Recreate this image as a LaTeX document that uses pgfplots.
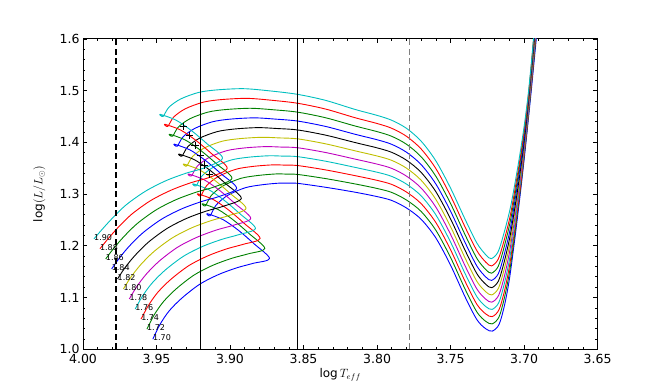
\documentclass[border=0pt]{standalone}
\usepackage{pgfplots}
\pgfplotsset{compat=1.18}
\usepackage{fontspec}
\setmainfont{DejaVu Sans}
\definecolor{mb}{rgb}{0,0,1}
\definecolor{mg}{rgb}{0,0.5,0}
\definecolor{mr}{rgb}{1,0,0}
\definecolor{mc}{rgb}{0,0.75,0.75}
\definecolor{mm}{rgb}{0.75,0,0.75}
\definecolor{my}{rgb}{0.75,0.75,0}
\definecolor{mk}{rgb}{0,0,0}
\begin{document}
\begin{tikzpicture}
\useasboundingbox (-83pt,-38.8pt) rectangle (581pt,349.2pt);
\begin{axis}[
  at={(0,0)}, anchor=south west,
  scale only axis, width=514.6pt, height=310.4pt,
  x dir=reverse, xmin=3.65, xmax=4.0, ymin=1.0, ymax=1.6,
  xtick={3.65,3.70,3.75,3.80,3.85,3.90,3.95,4.00},
  xticklabels={3.65,3.70,3.75,3.80,3.85,3.90,3.95,4.00},
  ytick={1.0,1.1,1.2,1.3,1.4,1.5,1.6},
  yticklabels={1.0,1.1,1.2,1.3,1.4,1.5,1.6},
  minor x tick num=4, minor y tick num=4,
  major tick length=4.5pt, minor tick length=2.2pt,
  tick style={black, line width=0.6pt},
  axis line style={line width=0.8pt},
  tick label style={font=\fontsize{12.5}{14}\selectfont},
  xticklabel style={yshift=-1.5pt},
  xlabel={$\log T_{eff}$}, ylabel={$\log(L/L_{\odot})$},
  label style={font=\fontsize{12}{14}\selectfont},
  xlabel style={at={(axis description cs:0.5,-0.082)}, anchor=center},
  ylabel style={at={(axis description cs:-0.085,0.5)}, anchor=center},
  every axis plot/.append style={line width=0.9pt, line join=round},
]
% evolutionary tracks, 1.70 ... 1.90 Msun
\addplot[mb, smooth] coordinates {
(3.9525,1.0194) (3.9477,1.0475) (3.9414,1.0740) (3.9327,1.0989) (3.9207,1.1254) (3.9080,1.1441) (3.8953,1.1574) (3.8842,1.1660) (3.8731,1.1753)
(3.8837,1.2039) (3.8943,1.2299) (3.9049,1.2507) (3.9155,1.2620) (3.9135,1.2580)
(3.9095,1.2785) (3.9015,1.2975) (3.8895,1.3122) (3.8775,1.3181) (3.8660,1.3211) (3.8600,1.3209) (3.8540,1.3206)
(3.835,1.3130) (3.815,1.3035) (3.800,1.2950) (3.790,1.2875) (3.780,1.2730) (3.770,1.2511) (3.760,1.2150) (3.750,1.1624) (3.740,1.1004) (3.732,1.0567) (3.726,1.0394) (3.7216,1.0350)
(3.7170,1.048) (3.7133,1.085) (3.7100,1.135) (3.7069,1.200) (3.7047,1.250) (3.7026,1.300) (3.7006,1.350) (3.6987,1.400) (3.6969,1.450) (3.6951,1.500) (3.6934,1.550) (3.6917,1.600) (3.6901,1.650)
};
\addplot[mg, smooth] coordinates {
(3.9565,1.0388) (3.9517,1.0658) (3.9453,1.0918) (3.9365,1.1169) (3.9244,1.1434) (3.9116,1.1623) (3.8988,1.1757) (3.8875,1.1844) (3.8763,1.1947)
(3.8869,1.2232) (3.8975,1.2492) (3.9081,1.2700) (3.9187,1.2812) (3.9167,1.2772)
(3.9127,1.2973) (3.9047,1.3158) (3.8927,1.3302) (3.8807,1.3359) (3.8685,1.3388) (3.8613,1.3384) (3.8540,1.3378)
(3.835,1.3298) (3.815,1.3195) (3.800,1.3107) (3.790,1.3030) (3.780,1.2884) (3.770,1.2662) (3.760,1.2299) (3.750,1.1773) (3.740,1.1154) (3.732,1.0715) (3.726,1.0537) (3.7217,1.0490)
(3.7171,1.062) (3.7134,1.099) (3.7099,1.149) (3.7067,1.214) (3.7045,1.264) (3.7023,1.314) (3.7003,1.364) (3.6984,1.414) (3.6966,1.464) (3.6949,1.514) (3.6932,1.564) (3.6916,1.614)
};
\addplot[mr, smooth] coordinates {
(3.9605,1.0582) (3.9556,1.0841) (3.9492,1.1097) (3.9403,1.1349) (3.9281,1.1614) (3.9151,1.1804) (3.9022,1.1940) (3.8908,1.2029) (3.8795,1.2141)
(3.8901,1.2426) (3.9007,1.2685) (3.9113,1.2892) (3.9219,1.3004) (3.9199,1.2964)
(3.9159,1.3161) (3.9079,1.3339) (3.8959,1.3479) (3.8839,1.3535) (3.8710,1.3563) (3.8625,1.3558) (3.8540,1.3550)
(3.835,1.3466) (3.815,1.3355) (3.800,1.3264) (3.790,1.3185) (3.780,1.3038) (3.770,1.2813) (3.760,1.2448) (3.750,1.1922) (3.740,1.1304) (3.732,1.0863) (3.726,1.0680) (3.7217,1.0630)
(3.7171,1.076) (3.7133,1.113) (3.7098,1.163) (3.7065,1.228) (3.7041,1.278) (3.7019,1.328) (3.6999,1.378) (3.6980,1.428) (3.6963,1.478) (3.6945,1.528) (3.6929,1.578) (3.6913,1.628)
};
\addplot[mc, smooth] coordinates {
(3.9645,1.0776) (3.9596,1.1024) (3.9531,1.1275) (3.9441,1.1529) (3.9318,1.1794) (3.9187,1.1986) (3.9056,1.2123) (3.8942,1.2213) (3.8827,1.2335)
(3.8933,1.2619) (3.9039,1.2877) (3.9145,1.3084) (3.9251,1.3196) (3.9231,1.3156)
(3.9191,1.3348) (3.9111,1.3522) (3.8991,1.3658) (3.8871,1.3712) (3.8735,1.3739) (3.8638,1.3732) (3.8540,1.3722)
(3.835,1.3634) (3.815,1.3515) (3.800,1.3421) (3.790,1.3340) (3.780,1.3192) (3.770,1.2964) (3.760,1.2597) (3.750,1.2071) (3.740,1.1454) (3.732,1.1011) (3.726,1.0823) (3.7218,1.0770)
(3.7172,1.090) (3.7134,1.127) (3.7097,1.177) (3.7063,1.242) (3.7039,1.292) (3.7017,1.342) (3.6996,1.392) (3.6977,1.442) (3.6960,1.492) (3.6943,1.542) (3.6927,1.592) (3.6912,1.642)
};
\addplot[mm, smooth] coordinates {
(3.9685,1.0970) (3.9635,1.1207) (3.9569,1.1453) (3.9479,1.1709) (3.9355,1.1974) (3.9222,1.2167) (3.9090,1.2306) (3.8975,1.2398) (3.8859,1.2529)
(3.8965,1.2812) (3.9071,1.3070) (3.9177,1.3276) (3.9283,1.3388) (3.9263,1.3348)
(3.9223,1.3536) (3.9143,1.3705) (3.9023,1.3837) (3.8903,1.3890) (3.8760,1.3916) (3.8650,1.3907) (3.8540,1.3894)
(3.835,1.3802) (3.815,1.3675) (3.800,1.3578) (3.790,1.3495) (3.780,1.3346) (3.770,1.3115) (3.760,1.2746) (3.750,1.2220) (3.740,1.1604) (3.732,1.1159) (3.726,1.0966) (3.7219,1.0910)
(3.7173,1.104) (3.7134,1.141) (3.7097,1.191) (3.7062,1.256) (3.7037,1.306) (3.7014,1.356) (3.6993,1.406) (3.6974,1.456) (3.6957,1.506) (3.6941,1.556) (3.6925,1.606) (3.6910,1.656)
};
\addplot[my, smooth] coordinates {
(3.9725,1.1164) (3.9675,1.1390) (3.9608,1.1632) (3.9517,1.1889) (3.9391,1.2154) (3.9258,1.2349) (3.9125,1.2489) (3.9008,1.2583) (3.8891,1.2723)
(3.8997,1.3006) (3.9103,1.3263) (3.9209,1.3469) (3.9315,1.3580) (3.9295,1.3540)
(3.9255,1.3724) (3.9175,1.3890) (3.9055,1.4019) (3.8935,1.4070) (3.8785,1.4096) (3.8663,1.4084) (3.8540,1.4066)
(3.835,1.3970) (3.815,1.3835) (3.800,1.3735) (3.790,1.3650) (3.780,1.3500) (3.770,1.3266) (3.760,1.2895) (3.750,1.2369) (3.740,1.1754) (3.732,1.1307) (3.726,1.1109) (3.7220,1.1050)
(3.7174,1.118) (3.7135,1.155) (3.7096,1.205) (3.7060,1.270) (3.7034,1.320) (3.7011,1.370) (3.6990,1.420) (3.6971,1.470) (3.6954,1.520) (3.6938,1.570) (3.6923,1.620)
};
\addplot[mk, smooth] coordinates {
(3.9765,1.1358) (3.9715,1.1573) (3.9647,1.1810) (3.9555,1.2069) (3.9428,1.2334) (3.9294,1.2530) (3.9159,1.2672) (3.9041,1.2767) (3.8923,1.2917)
(3.9029,1.3199) (3.9135,1.3456) (3.9241,1.3661) (3.9347,1.3772) (3.9327,1.3732)
(3.9287,1.3915) (3.9207,1.4079) (3.9087,1.4206) (3.8967,1.4257) (3.8810,1.4283) (3.8675,1.4265) (3.8540,1.4238)
(3.835,1.4138) (3.815,1.3995) (3.800,1.3892) (3.790,1.3805) (3.780,1.3654) (3.770,1.3417) (3.760,1.3044) (3.750,1.2518) (3.740,1.1904) (3.732,1.1455) (3.726,1.1252) (3.7220,1.1190)
(3.7174,1.132) (3.7135,1.169) (3.7095,1.219) (3.7057,1.284) (3.7031,1.334) (3.7007,1.384) (3.6986,1.434) (3.6968,1.484) (3.6951,1.534) (3.6935,1.584) (3.6921,1.634)
};
\addplot[mb, smooth] coordinates {
(3.9805,1.1552) (3.9754,1.1756) (3.9686,1.1989) (3.9593,1.2249) (3.9465,1.2514) (3.9329,1.2712) (3.9193,1.2855) (3.9074,1.2952) (3.8955,1.3111)
(3.9061,1.3392) (3.9167,1.3648) (3.9273,1.3853) (3.9379,1.3964) (3.9359,1.3924)
(3.9319,1.4106) (3.9239,1.4269) (3.9119,1.4396) (3.8999,1.4447) (3.8835,1.4472) (3.8688,1.4447) (3.8540,1.4410)
(3.835,1.4306) (3.815,1.4155) (3.800,1.4049) (3.790,1.3960) (3.780,1.3808) (3.770,1.3568) (3.760,1.3193) (3.750,1.2667) (3.740,1.2054) (3.732,1.1603) (3.726,1.1395) (3.7221,1.1330)
(3.7175,1.146) (3.7135,1.183) (3.7094,1.233) (3.7056,1.298) (3.7029,1.348) (3.7004,1.398) (3.6983,1.448) (3.6965,1.498) (3.6948,1.548) (3.6933,1.598) (3.6919,1.648)
};
\addplot[mg, smooth] coordinates {
(3.9845,1.1746) (3.9794,1.1939) (3.9725,1.2167) (3.9631,1.2429) (3.9502,1.2694) (3.9365,1.2893) (3.9227,1.3038) (3.9107,1.3137) (3.8987,1.3305)
(3.9093,1.3586) (3.9199,1.3841) (3.9305,1.4045) (3.9411,1.4156) (3.9391,1.4116)
(3.9351,1.4296) (3.9271,1.4457) (3.9151,1.4582) (3.9031,1.4632) (3.8860,1.4657) (3.8700,1.4627) (3.8540,1.4582)
(3.835,1.4474) (3.815,1.4315) (3.800,1.4206) (3.790,1.4115) (3.780,1.3962) (3.770,1.3719) (3.760,1.3342) (3.750,1.2816) (3.740,1.2204) (3.732,1.1751) (3.726,1.1538) (3.7222,1.1470)
(3.7176,1.160) (3.7136,1.197) (3.7094,1.247) (3.7054,1.312) (3.7027,1.362) (3.7002,1.412) (3.6980,1.462) (3.6962,1.512) (3.6945,1.562) (3.6931,1.612) (3.6917,1.662)
};
\addplot[mr, smooth] coordinates {
(3.9885,1.1940) (3.9833,1.2122) (3.9764,1.2345) (3.9669,1.2609) (3.9539,1.2874) (3.9400,1.3075) (3.9262,1.3222) (3.9140,1.3321) (3.9019,1.3499)
(3.9125,1.3779) (3.9231,1.4034) (3.9337,1.4238) (3.9443,1.4348) (3.9423,1.4308)
(3.9383,1.4488) (3.9303,1.4649) (3.9183,1.4774) (3.9063,1.4824) (3.8885,1.4849) (3.8713,1.4811) (3.8540,1.4754)
(3.835,1.4642) (3.815,1.4475) (3.800,1.4363) (3.790,1.4270) (3.780,1.4116) (3.770,1.3870) (3.760,1.3491) (3.750,1.2965) (3.740,1.2354) (3.732,1.1899) (3.726,1.1681) (3.7222,1.1610)
(3.7176,1.174) (3.7135,1.211) (3.7092,1.261) (3.7052,1.326) (3.7023,1.376) (3.6998,1.426) (3.6976,1.476) (3.6958,1.526) (3.6942,1.576) (3.6927,1.626)
};
\addplot[mc, smooth] coordinates {
(3.9925,1.2134) (3.9873,1.2306) (3.9803,1.2524) (3.9707,1.2789) (3.9575,1.3054) (3.9436,1.3257) (3.9296,1.3405) (3.9173,1.3506) (3.9051,1.3693)
(3.9157,1.3973) (3.9263,1.4227) (3.9369,1.4430) (3.9475,1.4540) (3.9455,1.4500)
(3.9415,1.4679) (3.9335,1.4838) (3.9215,1.4962) (3.9095,1.5011) (3.8910,1.5036) (3.8725,1.4992) (3.8540,1.4926)
(3.835,1.4810) (3.815,1.4635) (3.800,1.4520) (3.790,1.4425) (3.780,1.4270) (3.770,1.4021) (3.760,1.3640) (3.750,1.3114) (3.740,1.2504) (3.732,1.2047) (3.726,1.1824) (3.7223,1.1750)
(3.7177,1.188) (3.7136,1.225) (3.7092,1.275) (3.7050,1.340) (3.7021,1.390) (3.6995,1.440) (3.6973,1.490) (3.6955,1.540) (3.6939,1.590) (3.6925,1.640)
};
% markers on the hooks
\addplot[only marks, mark=+, mark size=3.6pt, black, mark options={line width=0.9pt}] coordinates {
(3.9318,1.430) (3.9275,1.413) (3.9238,1.393) (3.9203,1.374) (3.9175,1.356) (3.9137,1.338)
};
% vertical reference lines
\addplot[black, line width=1.4pt, dash pattern=on 6pt off 3.5pt] coordinates {(3.9775,1.0) (3.9775,1.6)};
\addplot[black, line width=1.5pt] coordinates {(3.920,1.0) (3.920,1.6)};
\addplot[black, line width=1.5pt] coordinates {(3.854,1.0) (3.854,1.6)};
\addplot[black!50, line width=1.5pt, dash pattern=on 6pt off 3.5pt] coordinates {(3.778,1.0) (3.778,1.6)};
% mass labels at the ZAMS
\begin{scope}[every node/.style={anchor=west, inner sep=0pt, yshift=1.5pt, font=\fontsize{8}{9}\selectfont}]
\node at (axis cs:3.9525,1.0194) {1.70};
\node at (axis cs:3.9565,1.0388) {1.72};
\node at (axis cs:3.9605,1.0582) {1.74};
\node at (axis cs:3.9645,1.0776) {1.76};
\node at (axis cs:3.9685,1.0970) {1.78};
\node at (axis cs:3.9725,1.1164) {1.80};
\node at (axis cs:3.9765,1.1358) {1.82};
\node at (axis cs:3.9805,1.1552) {1.84};
\node at (axis cs:3.9845,1.1746) {1.86};
\node at (axis cs:3.9885,1.1940) {1.88};
\node at (axis cs:3.9925,1.2134) {1.90};
\end{scope}
\end{axis}
\end{tikzpicture}
\end{document}
